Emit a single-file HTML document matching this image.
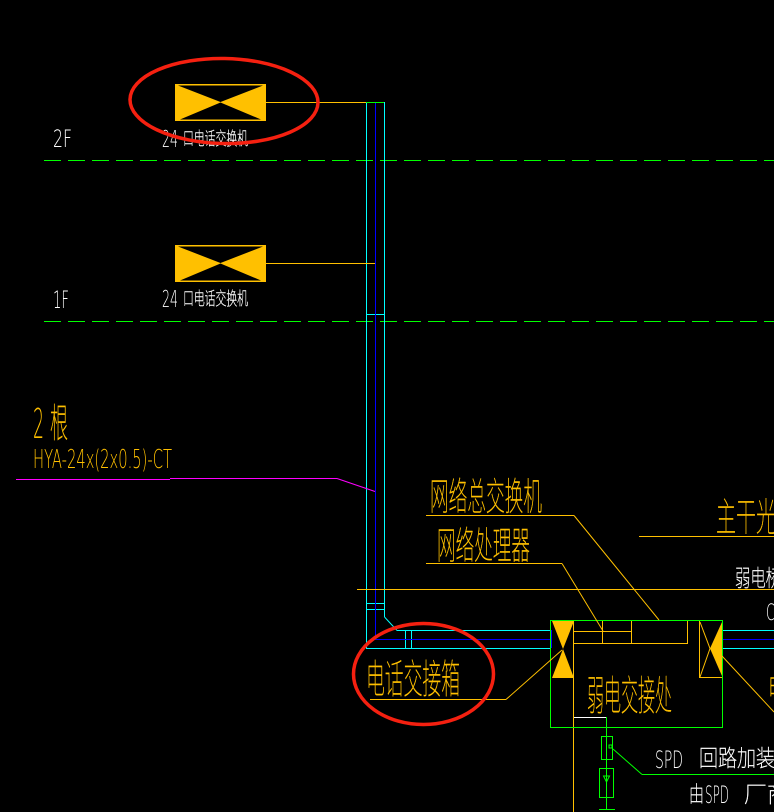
<!DOCTYPE html>
<html><head><meta charset="utf-8"><style>
html,body{margin:0;padding:0;background:#000;width:774px;height:812px;overflow:hidden}
svg{display:block}
.t{font-family:"DejaVu Sans","Liberation Sans","Noto Sans CJK SC",sans-serif;font-weight:200}
.c{font-family:"Noto Sans CJK SC","WenQuanYi Zen Hei",sans-serif;font-weight:100;stroke-width:.45}
.o{fill:#ffc000}.w{fill:#fff}
.c.o{stroke:#ffc000}.c.w{stroke:#fff}
</style></head><body>
<svg width="774" height="812" viewBox="0 0 774 812" xmlns="http://www.w3.org/2000/svg">
<rect width="774" height="812" fill="#000"/>
<g shape-rendering="crispEdges" fill="none" stroke-width="1">
<!-- green level lines -->
<path d="M44 160.500H774" stroke="#00ff00" stroke-dasharray="17 7"/>
<path d="M44 321.500H774" stroke="#00ff00" stroke-dasharray="17 7"/>
<!-- cyan / blue trays -->
<path d="M366.500 102V648.500H551" stroke="#00ffff"/>
<path d="M384.500 102V617" stroke="#00ffff"/>
<path d="M397 630.500H551" stroke="#00ffff"/>
<path d="M366 314.500H384M366 603.500H384M366 609.500H384M405.500 630V648M411.500 630V648" stroke="#00ffff"/>
<path d="M375.500 102V639.500H551" stroke="#0000ff"/>
<path d="M722 630.500H774M722 648.500H774" stroke="#00ffff"/>
<path d="M722 639.500H774" stroke="#0000ff"/>
<path d="M551 630V648M722 630V648" stroke="#0000ff" stroke-width="2"/>
<!-- orange lines -->
<path d="M266 102.500H366M266 263.500H375" stroke="#ffc000"/>
<path d="M366 102.500H384" stroke="#00ff00"/>
<path d="M357 589.500H774" stroke="#ffc000"/>
<path d="M426 515.500H574M426 563.500H562M639 536.500H774M370 699.500H506" stroke="#ffc000"/>
<path d="M573.500 621V812" stroke="#ffc000"/>
<path d="M574 631.500H631M574 643.500H688M602.500 621V643M631.500 621V643M687.500 621V643" stroke="#ffc000"/>
<path d="M699.500 621V677.500H722" stroke="#ffc000"/>
<!-- magenta -->
<path d="M16 479.500H170" stroke="#ff00ff"/>
<path d="M170 478.500H337" stroke="#ff00ff"/>
<!-- green box -->
<path d="M550.500 620.500H722.500V727.500H550.500Z" stroke="#00ff00"/>
<path d="M606.500 717V809" stroke="#00ff00"/>
<path d="M601.500 736.500H612.500V759.500H601.500Z" stroke="#00ff00"/>
<path d="M599.500 768.500H613.500V797.500H599.500Z" stroke="#00ff00"/>
<path d="M599 809.500H615" stroke="#00ff00"/>
<path d="M642 774.500H774" stroke="#00ff00"/>
<path d="M574 717.500H606" stroke="#ffffff"/>
</g>
<g fill="none" stroke-width="1">
<path d="M384.500 617L397 630.500" stroke="#00ffff"/>
<path d="M337 478.500L375 491.500" stroke="#ff00ff"/>
<path d="M574 515.500L659 620M562 563.500L603 631M506 699.500L562 650M722 656L774 712M700 622L710 648.500L700 677" stroke="#ffc000"/>
<path d="M613 749L642 774.500" stroke="#00ff00"/>
<path d="M609 745h3v3h-3zM603.500 776h6l-3 6z" stroke="#00ff00"/>
</g>
<!-- exchanger symbols -->
<rect x="175" y="84" width="91" height="37" fill="#ffc000"/>
<path d="M178 85.500H263L220.500 102ZM180 119.500H261L220.500 102.500Z" fill="#000"/>
<rect x="175" y="245" width="91" height="37" fill="#ffc000"/>
<path d="M178 246.500H263L220.500 263ZM180 280.500H261L220.500 263.500Z" fill="#000"/>
<path d="M552 621H574L563 649ZM552 678H574L563 649Z" fill="#ffc000"/>
<path d="M722 622V676L710 648.500Z" fill="#ffc000"/>
<!-- labels -->
<g class="t">
<text class="w" x="53" y="147" font-size="24" textLength="19" lengthAdjust="spacingAndGlyphs">2F</text>
<text class="w" x="53" y="308" font-size="24" textLength="16" lengthAdjust="spacingAndGlyphs">1F</text>
<text class="w" x="162" y="147" font-size="23" textLength="16" lengthAdjust="spacingAndGlyphs">24</text>
<text class="w c" x="183" y="145" font-size="18" textLength="65" lengthAdjust="spacingAndGlyphs">口电话交换机</text>
<text class="w" x="162" y="307" font-size="23" textLength="16" lengthAdjust="spacingAndGlyphs">24</text>
<text class="w c" x="183" y="305" font-size="18" textLength="65" lengthAdjust="spacingAndGlyphs">口电话交换机</text>
<text class="o" x="33" y="438" font-size="41" textLength="11" lengthAdjust="spacingAndGlyphs">2</text>
<text class="o c" x="50" y="437" font-size="40" textLength="18" lengthAdjust="spacingAndGlyphs">根</text>
<text class="o" x="33" y="468" font-size="26" textLength="139" lengthAdjust="spacingAndGlyphs">HYA-24x(2x0.5)-CT</text>
<text class="o c" x="430" y="510" font-size="38" textLength="112" lengthAdjust="spacingAndGlyphs">网络总交换机</text>
<text class="o c" x="437" y="559" font-size="38" textLength="93" lengthAdjust="spacingAndGlyphs">网络处理器</text>
<text class="o c" x="716" y="531" font-size="39" textLength="60" lengthAdjust="spacingAndGlyphs">主干光</text>
<text class="w c" x="735" y="586" font-size="23" textLength="46" lengthAdjust="spacingAndGlyphs">弱电桥</text>
<text class="w" x="766" y="620" font-size="22" textLength="9" lengthAdjust="spacingAndGlyphs">C</text>
<text class="o c" x="366" y="693" font-size="40" textLength="94" lengthAdjust="spacingAndGlyphs">电话交接箱</text>
<text class="o c" x="587" y="710" font-size="41" textLength="85" lengthAdjust="spacingAndGlyphs">弱电交接处</text>
<text class="o c" x="768" y="701" font-size="34" textLength="18" lengthAdjust="spacingAndGlyphs">电</text>
<text class="w" x="655" y="768" font-size="24" textLength="28" lengthAdjust="spacingAndGlyphs">SPD</text>
<text class="w c" x="699" y="766" font-size="23" textLength="95" lengthAdjust="spacingAndGlyphs">回路加装的</text>
<text class="w c" x="689" y="802" font-size="22" textLength="15" lengthAdjust="spacingAndGlyphs">由</text>
<text class="w" x="705" y="803" font-size="24" textLength="24" lengthAdjust="spacingAndGlyphs">SPD</text>
<text class="w c" x="744" y="802" font-size="23" textLength="46" lengthAdjust="spacingAndGlyphs">厂商</text>
</g>
<!-- red ellipses -->
<g fill="none" stroke="#f52010" stroke-width="3.500">
<ellipse cx="224" cy="101" rx="94" ry="42.500" transform="rotate(1 224 101)"/>
<ellipse cx="423.500" cy="674" rx="70" ry="50.500"/>
</g>
</svg>
</body></html>
